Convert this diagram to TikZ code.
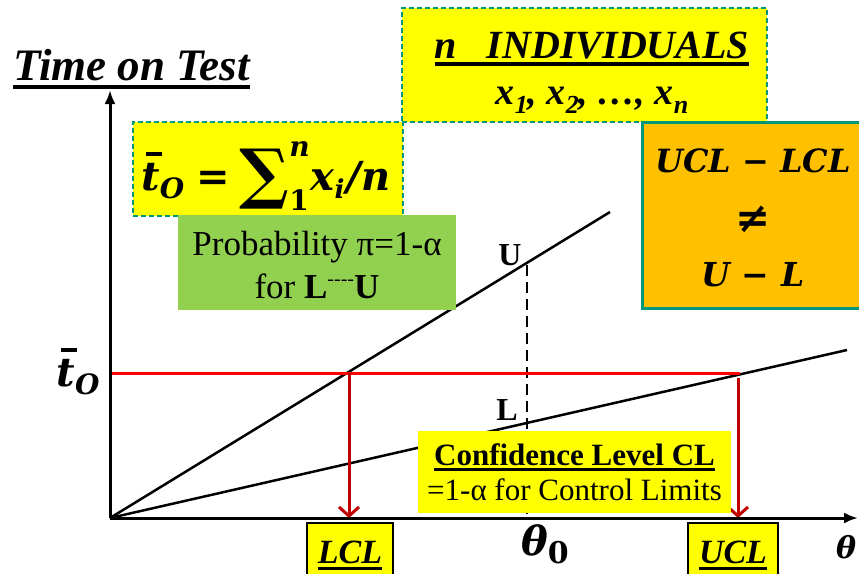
\documentclass[tikz,border=0pt]{standalone}
\usepackage{fontspec}
\setmainfont{Liberation Serif}
\newfontfamily\mf{DejaVu Serif}
\usetikzlibrary{arrows.meta}
\definecolor{ylw}{RGB}{255,255,0}
\definecolor{grn}{RGB}{146,208,80}
\definecolor{org}{RGB}{255,192,0}
\definecolor{tealb}{RGB}{0,150,120}
\definecolor{dred}{RGB}{192,0,0}
\newcommand\thul[1]{\setbox0\hbox{#1}\leavevmode\rlap{\copy0}\rule[-0.2em]{\wd0}{0.09em}}
\newcommand\fs[1]{\fontsize{#1}{#1}\selectfont}
\newcommand\tbar{\setbox2\hbox{t}\leavevmode\rlap{\hspace{0.12em}\raisebox{0.86em}{\rule{0.85\wd2}{0.08em}}}t}
\tikzset{
  axisline/.style={line width=3pt,-{Latex[length=14pt,width=11pt]}},
  thinline/.style={line width=2.5pt},
  redline/.style={red,line width=3pt},
  droparrow/.style={dred,line width=3pt,-{Straight Barb[length=9pt,width=20pt,line width=3pt]}},
  dashbox/.style={fill=ylw,draw=tealb,line width=1.5pt,dash pattern=on 5pt off 3pt,inner sep=0pt},
  plainbox/.style={inner sep=0pt},
  limbox/.style={fill=ylw,draw=black,line width=2.5pt,inner sep=0pt},
  txt/.style={inner sep=0pt,anchor=base}
}
\begin{document}
\begin{tikzpicture}[x=1pt,y=-1pt]
\clip (0,0) rectangle (859,573);
\fill[white] (0,0) rectangle (859,573);
% axes
\coordinate (O) at (110,518);
\coordinate (ytip) at (110,90);
\coordinate (xtip) at (858,518);
\coordinate (Uend) at (610,212);
\coordinate (Lend) at (847,350);
\coordinate (tl) at (110,373);
\coordinate (lcltop) at (349,373);
\coordinate (ucltop) at (740,373);
\coordinate (uclarr) at (738,378);
\coordinate (lclbot) at (349,518);
\coordinate (uclbot) at (738,518);
\coordinate (Upt) at (527,265);
\coordinate (Ubot) at (527,518);
\draw[thinline] (O) -- (Uend);
\draw[thinline] (O) -- (Lend);
\draw[line width=2.5pt,dash pattern=on 11pt off 6pt] (Upt) -- (Ubot);
\draw[redline] (tl) -- (ucltop);
\draw[droparrow] (lcltop) -- (lclbot);
\draw[droparrow] (uclarr) -- (uclbot);
\draw[axisline] (O) -- (ytip);
\draw[axisline] (O) -- (xtip);
% boxes
\node[dashbox,minimum width=365pt,minimum height=114pt] (indbox) at (584.5,65) {};
\node[dashbox,minimum width=270pt,minimum height=94pt] (formbox) at (268,169) {};
\node[plainbox,fill=grn,minimum width=278pt,minimum height=95pt] (probbox) at (317,262.5) {};
\node[plainbox,fill=org,draw=tealb,line width=3pt,minimum width=230pt,minimum height=186pt] (diffbox) at (757,215) {};
\node[plainbox,fill=ylw,minimum width=313pt,minimum height=82pt] (confbox) at (574.5,472) {};
\node[limbox,minimum width=86pt,minimum height=60pt] (lclbox) at (350,553) {};
\node[limbox,minimum width=90pt,minimum height=60pt] (uclbox) at (733,553) {};
% texts
\node[txt,anchor=base west] (title) at (13,80) {\fs{45}\bfseries\itshape\thul{Time on Test}};
\node[txt] (indtxt) at (592,58) {\fs{40}\bfseries\itshape\thul{n\hspace{0.75em}INDIVIDUALS}};
\node[txt] (xtxt) at (592,104) {\fs{38}\bfseries\itshape x\raisebox{-0.25em}{\fs{26}1}, x\raisebox{-0.25em}{\fs{26}2}, \ldots, x\raisebox{-0.25em}{\fs{26}n}};
\node[txt] (formula) at (266,190) {\mf\fs{40}\bfseries\itshape \tbar\raisebox{-0.22em}{\fs{28}O}\hspace{0.3em}{\upshape =}\hspace{0.25em}\raisebox{-0.15em}{\fs{66}\upshape ∑}\rlap{\raisebox{0.85em}{\fs{28}n}}\raisebox{-0.5em}{\fs{28}\upshape 1}\hspace{0.05em}x\raisebox{-0.22em}{\fs{26}i}\hspace{0.06em}/n};
\node[txt] (prob1) at (317,255) {\fs{35}Probability π=1-α};
\node[txt] (prob2) at (317,298) {\fs{35}for \textbf{L}\raisebox{0.35em}{\fs{20}{-}{-}{-}{-}}\textbf{U}};
\node[txt] (diff1) at (753,172) {\mf\fs{32}\bfseries\itshape UCL {\upshape −} LCL};
\node[txt] (diff2) at (753,232) {\mf\fs{42}\bfseries ≠};
\node[txt] (diff3) at (753,286) {\mf\fs{33}\bfseries\itshape U {\upshape −} L};
\node[txt] (conf1) at (574.5,465) {\fs{31}\bfseries\thul{Confidence Level CL}};
\node[txt] (conf2) at (574.5,500) {\fs{31}=1-α for Control Limits};
\node[txt] (ulab) at (510,265) {\fs{32}\bfseries U};
\node[txt] (llab) at (507,420) {\fs{32}\bfseries L};
\node[txt] (t0lab) at (78,386) {\mf\fs{40}\bfseries\itshape \tbar\raisebox{-0.22em}{\fs{28}O}};
\node[txt] (th0) at (545,555) {\mf\fs{40}\bfseries\itshape θ\raisebox{-0.2em}{\fs{30}\upshape 0}};
\node[txt] (th) at (846,558) {\mf\fs{30}\bfseries\itshape θ};
\node[txt] (lcltxt) at (350,563) {\fs{34}\bfseries\itshape\thul{LCL}};
\node[txt] (ucltxt) at (733,563) {\fs{34}\bfseries\itshape\thul{UCL}};
\end{tikzpicture}
\end{document}
